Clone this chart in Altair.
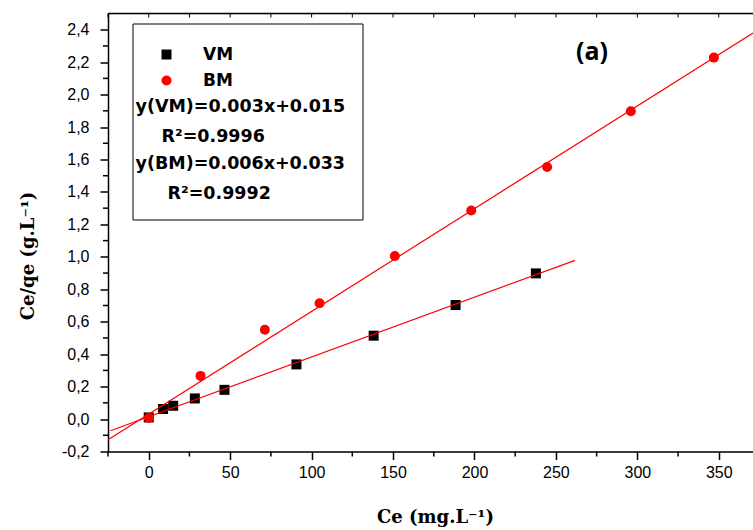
import altair as alt
import pandas as pd

# ---- data ----
vm_ce = [0, 8.8, 15, 28.3, 46.5, 90.7, 138.1, 188.4, 237.7]
vm_ratio = [0.01, 0.062, 0.082, 0.127, 0.18, 0.337, 0.514, 0.703, 0.898]
bm_ce = [0, 31.8, 71.3, 104.9, 151.1, 198, 244.6, 296, 347]
bm_ratio = [0.006, 0.266, 0.55, 0.714, 1.005, 1.286, 1.554, 1.897, 2.228]

series = ["VM", "BM"]
series_colors = ["#000000", "#ff0000"]
series_shapes = ["square", "circle"]

fit_slope = [0.003682, 0.006333]
fit_intercept = [0.0145, 0.0303]
fit_x_start = [-23.5, -25]
fit_x_end = [261.7, 371]

x_major = [0, 50, 100, 150, 200, 250, 300, 350]
x_minor = [-25, 25, 75, 125, 175, 225, 275, 325]
x_top_ticks = [-25, 0, 25, 50, 75, 100, 125, 150, 175, 200, 225, 250, 275, 300, 325, 350]
y_major = [-0.2, 0.0, 0.2, 0.4, 0.6, 0.8, 1.0, 1.2, 1.4, 1.6, 1.8, 2.0, 2.2, 2.4]
y_minor = [-0.1, 0.1, 0.3, 0.5, 0.7, 0.9, 1.1, 1.3, 1.5, 1.7, 1.9, 2.1, 2.3]

ann_texts = ["y(VM)=0.003x+0.015", "R\u00b2=0.9996", "y(BM)=0.006x+0.033", "R\u00b2=0.9992"]
panel_label = "(a)"
x_title = "Ce (mg.L\u207b\u00b9)"
y_title = "Ce/qe (g.L\u207b\u00b9)"

# ---- tables ----
pts = pd.DataFrame({
    "Ce": vm_ce + bm_ce,
    "ratio": vm_ratio + bm_ratio,
    "series": ["VM"] * len(vm_ce) + ["BM"] * len(bm_ce),
})
fit_rows = []
for s, m, b, x0, x1 in zip(series, fit_slope, fit_intercept, fit_x_start, fit_x_end):
    for xv in (x0, x1):
        fit_rows.append({"series": s, "Ce": xv, "ratio": b + m * xv})
fits = pd.DataFrame(fit_rows)

W, H = 645, 438
XD = [-25, 371]
YD = [-0.2, 2.5]

xscale = alt.Scale(domain=XD, nice=False, zero=False)
yscale = alt.Scale(domain=YD, nice=False, zero=False)

x_axis = alt.Axis(values=x_major, tickSize=8, tickWidth=1.5, tickColor="black",
                  domainColor="black", domainWidth=1.5, grid=False, labelOverlap=False,
                  labelFont="Liberation Sans", labelFontSize=16, labelColor="black",
                  labelPadding=5, title=x_title, titleFont="DejaVu Serif",
                  titleFontSize=18, titleFontWeight="bold", titleColor="black",
                  titleX=327, titleY=66, titleBaseline="middle", titleAlign="center")
y_axis = alt.Axis(values=y_major, tickSize=8, tickWidth=1.5, tickColor="black",
                  domainColor="black", domainWidth=1.5, grid=False, labelOverlap=False,
                  labelExpr="replace(replace(format(datum.value, '.1f'), '.', ','), '\u2212', '-')",
                  labelFont="Liberation Sans", labelFontSize=16, labelColor="black",
                  labelPadding=11, title=y_title, titleFont="DejaVu Serif",
                  titleFontSize=18, titleFontWeight="bold", titleColor="black",
                  titleAngle=270, titleX=-80, titleY=242, titleBaseline="middle",
                  titleAlign="center")

points = alt.Chart(pts).mark_point(filled=True, opacity=1, strokeWidth=0, size=100).encode(
    x=alt.X("Ce:Q", scale=xscale, axis=x_axis),
    y=alt.Y("ratio:Q", scale=yscale, axis=y_axis),
    color=alt.Color("series:N", scale=alt.Scale(domain=series, range=series_colors),
                    legend=alt.Legend(title=None, orient="none", legendX=50, legendY=32.5,
                                      labelFont="DejaVu Sans", labelFontWeight="bold",
                                      labelFontSize=17, labelColor="black", labelOffset=28,
                                      rowPadding=8, padding=0, symbolSize=100,
                                      symbolStrokeWidth=0, symbolOpacity=1)),
    shape=alt.Shape("series:N", scale=alt.Scale(domain=series, range=series_shapes),
                    legend=None),
)

lines = alt.Chart(fits).mark_line(color="#ff0000", strokeWidth=1.2).encode(
    x=alt.X("Ce:Q", scale=xscale, axis=x_axis),
    y=alt.Y("ratio:Q", scale=yscale, axis=y_axis),
    detail="series:N",
)

one = pd.DataFrame({"k": [0]})

box = alt.Chart(one).mark_rect(fillOpacity=0, stroke="black", strokeWidth=1).encode(
    x=alt.value(25), x2=alt.value(255), y=alt.value(10.5), y2=alt.value(206.5)
)

top_frame = alt.Chart(one).mark_rule(color="black", strokeWidth=1.5).encode(
    x=alt.value(0), x2=alt.value(W), y=alt.value(0)
)
top_ticks = alt.Chart(pd.DataFrame({"Ce": x_top_ticks})).mark_rule(color="black", strokeWidth=1).encode(
    x=alt.X("Ce:Q", scale=xscale, axis=x_axis), y=alt.value(0), y2=alt.value(4)
)
x_minor_ticks = alt.Chart(pd.DataFrame({"Ce": x_minor})).mark_rule(color="black", strokeWidth=1.5).encode(
    x=alt.X("Ce:Q", scale=xscale, axis=x_axis), y=alt.value(H), y2=alt.value(H + 5)
)
y_minor_ticks = alt.Chart(pd.DataFrame({"ratio": y_minor})).mark_rule(color="black", strokeWidth=1.5).encode(
    y=alt.Y("ratio:Q", scale=yscale, axis=y_axis), x=alt.value(-5), x2=alt.value(0)
)

ann_pos = [(27.5, 93.5), (53.5, 123.5), (27.5, 150), (59.5, 180)]
ann_layers = []
for txt, (px, py) in zip(ann_texts, ann_pos):
    ann_layers.append(
        alt.Chart(pd.DataFrame({"label": [txt]})).mark_text(
            font="DejaVu Sans", fontWeight="bold", fontSize=17.5, color="black",
            align="left", baseline="middle"
        ).encode(text="label:N", x=alt.value(px), y=alt.value(py))
    )

panel = alt.Chart(pd.DataFrame({"label": [panel_label]})).mark_text(
    font="Open Sans", fontWeight="bold", fontSize=25, color="black",
    align="center", baseline="middle"
).encode(text="label:N", x=alt.value(484), y=alt.value(38))

chart = alt.layer(
    box, points, lines, top_frame, top_ticks, x_minor_ticks, y_minor_ticks, panel, *ann_layers
).properties(
    width=W, height=H,
    autosize=alt.AutoSizeParams(type="none"),
    padding={"left": 108, "top": 13.5, "right": 0, "bottom": 78.5},
).configure_view(stroke=None).configure_axis(labelOverlap=False).configure(background="white")

chart.save("out.html", embed_options={"renderer": "svg", "actions": False})
